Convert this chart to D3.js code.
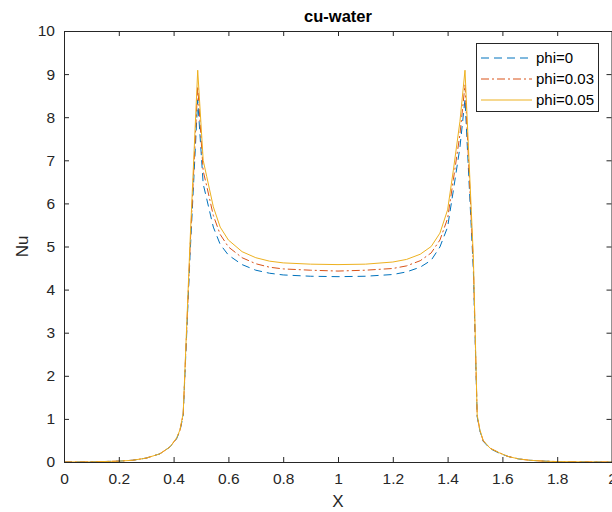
<!DOCTYPE html>
<html><head><meta charset="utf-8">
<script src="https://cdn.jsdelivr.net/npm/d3@7"></script>
<style>body{margin:0;background:#fff}svg{display:block}</style>
</head><body>
<svg id="c" width="612" height="512"></svg>
<script>
const xs = [0, 0.1, 0.2, 0.25, 0.3, 0.35, 0.387, 0.411, 0.423, 0.435, 0.46, 0.488, 0.508, 0.521, 0.545, 0.57, 0.6, 0.65, 0.7, 0.75, 0.8, 0.9, 1.0, 1.1, 1.2, 1.25, 1.3, 1.34, 1.372, 1.4, 1.421, 1.445, 1.4635, 1.494, 1.508, 1.518, 1.53, 1.555, 1.59, 1.62, 1.66, 1.7, 1.75, 1.8, 1.9, 2.0];
const phi0 = [0, 0.003, 0.02, 0.04, 0.09, 0.19, 0.35, 0.54, 0.72, 1.07, 4.8, 8.4, 6.45, 6.1, 5.45, 5.05, 4.8, 4.58, 4.45, 4.38, 4.34, 4.31, 4.3, 4.31, 4.35, 4.41, 4.52, 4.68, 4.99, 5.45, 6.3, 7.3, 8.42, 4.45, 1.05, 0.72, 0.48, 0.31, 0.2, 0.13, 0.07, 0.04, 0.02, 0.01, 0.003, 0];
const phi003 = [0, 0.003, 0.02, 0.04, 0.09, 0.19, 0.35, 0.55, 0.73, 1.1, 4.95, 8.72, 6.75, 6.4, 5.72, 5.28, 4.99, 4.74, 4.6, 4.52, 4.48, 4.45, 4.43, 4.45, 4.49, 4.55, 4.67, 4.85, 5.15, 5.65, 6.55, 7.6, 8.75, 4.6, 1.07, 0.73, 0.49, 0.32, 0.21, 0.13, 0.07, 0.04, 0.02, 0.01, 0.003, 0];
const phi005 = [0, 0.003, 0.02, 0.04, 0.09, 0.19, 0.35, 0.56, 0.74, 1.13, 5.1, 9.09, 7.0, 6.62, 5.92, 5.45, 5.15, 4.88, 4.74, 4.66, 4.62, 4.59, 4.58, 4.59, 4.64, 4.7, 4.82, 5.0, 5.31, 5.85, 6.77, 7.9, 9.09, 4.76, 1.09, 0.74, 0.5, 0.32, 0.21, 0.13, 0.07, 0.04, 0.02, 0.01, 0.003, 0];
const seriesNames = ["phi=0", "phi=0.03", "phi=0.05"];
const xTicks = [0, 0.2, 0.4, 0.6, 0.8, 1, 1.2, 1.4, 1.6, 1.8, 2];
const yTicks = [0, 1, 2, 3, 4, 5, 6, 7, 8, 9, 10];
const titleText = "cu-water", xLabel = "X", yLabel = "Nu";

const series = [
  {name: seriesNames[0], vals: phi0, color: "#0072BD", dash: "8,5"},
  {name: seriesNames[1], vals: phi003, color: "#D95319", dash: "8,3,2,3"},
  {name: seriesNames[2], vals: phi005, color: "#EDB120", dash: null}
];

const L = 64, R = 612, T = 31, B = 462;
const svg = d3.select("#c");
const x = d3.scaleLinear().domain([0, 2]).range([L, R]);
const y = d3.scaleLinear().domain([0, 10]).range([B, T]);
const font = "'Liberation Sans', Arial, Helvetica, sans-serif";
const axCol = "#262626";

// curves
svg.append("clipPath").attr("id","clp").append("rect")
  .attr("x", L).attr("y", T).attr("width", R-L).attr("height", B-T);
const line = d3.line().x((d,i)=>x(xs[i])).y(d=>y(d));
const g = svg.append("g").attr("clip-path","url(#clp)");
series.forEach(s=>{
  g.append("path").attr("d", line(s.vals)).attr("fill","none")
   .attr("stroke", s.color).attr("stroke-width", 1)
   .attr("stroke-dasharray", s.dash);
});

// axes
const xb = svg.append("g").attr("transform",`translate(0,${B})`)
  .call(d3.axisBottom(x).tickValues(xTicks).tickFormat(d3.format("~g")).tickSizeInner(-5).tickSizeOuter(0).tickPadding(8));
const xt = svg.append("g").attr("transform",`translate(0,${T})`)
  .call(d3.axisTop(x).tickValues(xTicks).tickFormat("").tickSizeInner(-5).tickSizeOuter(0));
const yl = svg.append("g").attr("transform",`translate(${L},0)`)
  .call(d3.axisLeft(y).tickValues(yTicks).tickSizeInner(-5).tickSizeOuter(0).tickPadding(9));
const yr = svg.append("g").attr("transform",`translate(${R-0.5},0)`)
  .call(d3.axisRight(y).tickValues(yTicks).tickFormat("").tickSizeInner(-5).tickSizeOuter(0));
[xb,xt,yl,yr].forEach(a=>{
  a.selectAll("path,line").attr("stroke", axCol).attr("stroke-width",1);
  a.selectAll("text").attr("fill", axCol).style("font-family", font).style("font-size","15.5px");
});
xb.selectAll("text").attr("dy","0.9em");

// title & labels
svg.append("text").attr("x",(L+R)/2).attr("y",22).attr("text-anchor","middle")
  .style("font-family",font).style("font-size","16.5px").style("font-weight","bold").attr("fill","#000").text(titleText);
svg.append("text").attr("x",(L+R)/2).attr("y",507).attr("text-anchor","middle")
  .style("font-family",font).style("font-size","17px").attr("fill",axCol).text(xLabel);
svg.append("text").attr("transform",`translate(28,${(T+B)/2}) rotate(-90)`).attr("text-anchor","middle")
  .style("font-family",font).style("font-size","17px").attr("fill",axCol).text(yLabel);

// legend
const lg = svg.append("g");
lg.append("rect").attr("x",476.5).attr("y",43.5).attr("width",122).attr("height",68)
  .attr("fill","#fff").attr("stroke",axCol).attr("stroke-width",1);
series.forEach((s,i)=>{
  const yy = 58 + i*21;
  lg.append("line").attr("x1",481).attr("x2",532).attr("y1",yy).attr("y2",yy)
    .attr("stroke",s.color).attr("stroke-width",1).attr("stroke-dasharray",s.dash);
  lg.append("text").attr("x",536).attr("y",yy).attr("dy","0.35em")
    .style("font-family",font).style("font-size","15px").attr("fill","#000").text(s.name);
});
</script>
</body></html>
